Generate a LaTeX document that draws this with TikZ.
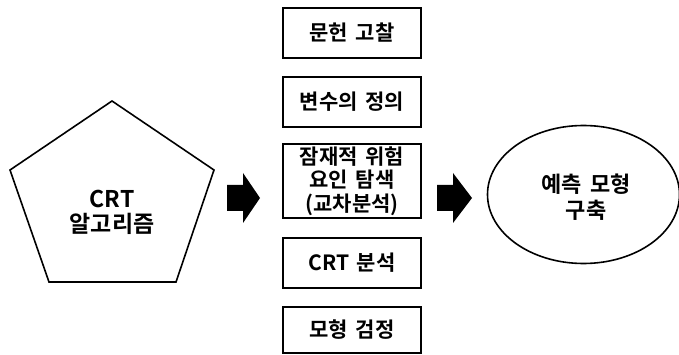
\documentclass[tikz,border=0pt]{standalone}
\usepackage{fontspec}
\setmainfont{Noto Sans CJK KR}[BoldFont={Noto Sans CJK KR Bold}, WordSpace=1.6]
\usetikzlibrary{shapes.geometric}
\tikzset{
  stepbox/.style={draw=black, line width=1.8pt, rectangle, minimum width=138pt, inner sep=0pt, align=center, font=\fontsize{21pt}{23.5pt}\selectfont\bfseries},
  txt/.style={align=center, inner sep=0pt, font=\fontsize{21pt}{25pt}\selectfont\bfseries},
  outline/.style={draw=black, line width=1.6pt, line join=miter},
}
\begin{document}
\begin{tikzpicture}[x=1pt,y=-1pt]
\useasboundingbox (0,0) rectangle (679,355);
% pentagon
\coordinate (p1) at (112,101);
\coordinate (p2) at (214,170);
\coordinate (p3) at (176,282);
\coordinate (p4) at (49,282);
\coordinate (p5) at (10,170);
\draw[outline] (p1) -- (p2) -- (p3) -- (p4) -- (p5) -- cycle;
\node[txt, font=\fontsize{23pt}{25pt}\selectfont\bfseries] (crt) at (112,212) {CRT\\알고리즘};
% boxes
\node[stepbox, minimum height=50pt] (b1) at (352,33) {문헌 고찰};
\node[stepbox, minimum height=50pt] (b2) at (352,102) {변수의 정의};
\node[stepbox, minimum height=74pt] (b3) at (352,181) {잠재적 위험\\요인 탐색\\(교차분석)};
\node[stepbox, minimum height=50pt] (b4) at (352,263) {CRT 분석};
\node[stepbox, minimum height=46pt] (b5) at (352,330) {모형 검정};
% ellipse
\node[ellipse, draw=black, line width=1.6pt, minimum width=192pt, minimum height=138pt, inner sep=0pt] (el) at (583.5,194.5) {};
\node[txt, font=\fontsize{22pt}{26pt}\selectfont\bfseries] (eltxt) at (586,197) {예측 모형\\구축};
% block arrows
\coordinate (a1) at (227,198);
\fill[black] (a1) ++(0,-13) -- ++(16,0) -- ++(0,-12) -- ++(17,25) -- ++(-17,25) -- ++(0,-12) -- ++(-16,0) -- cycle;
\coordinate (a2) at (437,198);
\fill[black] (a2) ++(0,-13) -- ++(16,0) -- ++(0,-12) -- ++(19,25) -- ++(-19,25) -- ++(0,-12) -- ++(-16,0) -- cycle;
\end{tikzpicture}
\end{document}
